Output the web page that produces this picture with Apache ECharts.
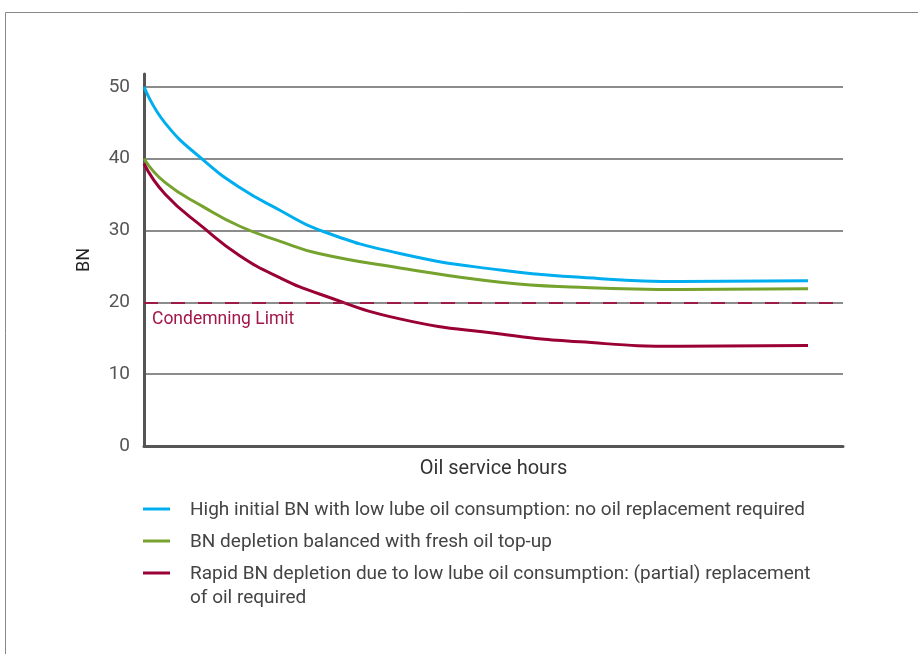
<!DOCTYPE html>
<html>
<head>
<meta charset="utf-8">
<script src="https://cdn.jsdelivr.net/npm/echarts@6/dist/echarts.min.js"></script>
<style>
html,body{margin:0;padding:0;background:#fff;}
#c{width:918px;height:654px;}
</style>
</head>
<body>
<div id="c"></div>
<script>
// Oil service hours (relative position along the axis, 0–100)
const hours = [0, 3, 8.5, 13.7, 19.5, 25, 36.6, 51, 62.4, 76.7, 95];
// BN values per scenario
const highInitial = [50, 45.0, 39.8, 36.0, 32.8, 30.1, 26.8, 24.5, 23.5, 22.9, 23.0];
const balanced    = [40, 36.7, 33.3, 30.6, 28.5, 26.8, 24.8, 22.8, 22.1, 21.8, 21.9];
const rapid       = [39.3, 35.1, 30.4, 26.5, 23.4, 21.2, 17.7, 15.6, 14.5, 13.9, 14.0];
const condemningLimit = 20;
const yTicks = [0, 10, 20, 30, 40, 50];
const seriesNames = [
  'High initial BN with low lube oil consumption: no oil replacement required',
  'BN depletion balanced with fresh oil top-up',
  'Rapid BN depletion due to low lube oil consumption: (partial) replacement\nof oil required'
];
const colors = ['#00AEEF', '#76A22E', '#9A0036'];

const FONT = 'Roboto';
const pair = (vals) => hours.map((h, i) => [h, vals[i]]);

const chart = echarts.init(document.getElementById('c'));
const legendGraphics = [];
const legendTops = [509, 541, 573];
seriesNames.forEach((n, i) => {
  legendGraphics.push({
    type: 'rect', left: 143, top: legendTops[i] - 1.5,
    shape: {width: 27, height: 3}, style: {fill: colors[i]}
  });
  legendGraphics.push({
    type: 'text', left: 190, top: legendTops[i] - 11,
    style: {text: n, font: '19px ' + FONT, fill: '#444', lineHeight: 24}
  });
});

chart.setOption({
  animation: false,
  textStyle: {fontFamily: FONT},
  grid: {left: 144, right: 75, top: 74, bottom: 208, containLabel: false},
  xAxis: {
    type: 'value', min: 0, max: 100,
    name: 'Oil service hours', nameLocation: 'middle', nameGap: 13,
    nameTextStyle: {fontSize: 20, color: '#333', fontFamily: FONT},
    axisLine: {show: true, onZero: false, lineStyle: {color: '#555', width: 3}},
    axisTick: {show: false}, axisLabel: {show: false}, splitLine: {show: false}
  },
  yAxis: {
    type: 'value', min: 0, max: 51.8, interval: 10,
    name: 'BN', nameLocation: 'middle', nameGap: 51, nameRotate: 90,
    nameTextStyle: {fontSize: 18, color: '#222', fontFamily: FONT},
    axisLine: {show: true, lineStyle: {color: '#555', width: 3}},
    axisTick: {show: false},
    axisLabel: {
      show: true, showMaxLabel: false, margin: 14, fontSize: 19, color: '#555', fontFamily: FONT,
      formatter: (v) => (yTicks.indexOf(v) >= 0 ? String(v) : '')
    },
    splitLine: {show: true, showMaxLine: false, lineStyle: {color: '#666', width: 1.5}}
  },
  series: [
    {name: seriesNames[0], type: 'line', smooth: true, showSymbol: false, data: pair(highInitial),
     lineStyle: {color: colors[0], width: 3}, z: 3},
    {name: seriesNames[1], type: 'line', smooth: true, showSymbol: false, data: pair(balanced),
     lineStyle: {color: colors[1], width: 3}, z: 3},
    {name: seriesNames[2], type: 'line', smooth: true, showSymbol: false, data: pair(rapid),
     lineStyle: {color: colors[2], width: 3}, z: 3,
     markLine: {
       silent: true, symbol: 'none',
       lineStyle: {color: '#9B1B45', width: 1.8, type: [14, 13]},
       label: {show: true, position: 'insideStartBottom', formatter: 'Condemning Limit',
               color: '#A3164A', fontSize: 17.5, fontFamily: FONT, distance: [8, 8]},
       data: [{yAxis: condemningLimit}]
     }}
  ],
  graphic: [
    {type: 'rect', left: 3, top: 10, shape: {width: 1000, height: 1000},
     style: {fill: 'none', stroke: '#888', lineWidth: 1}, silent: true}
  ].concat(legendGraphics)
});
</script>
</body>
</html>
